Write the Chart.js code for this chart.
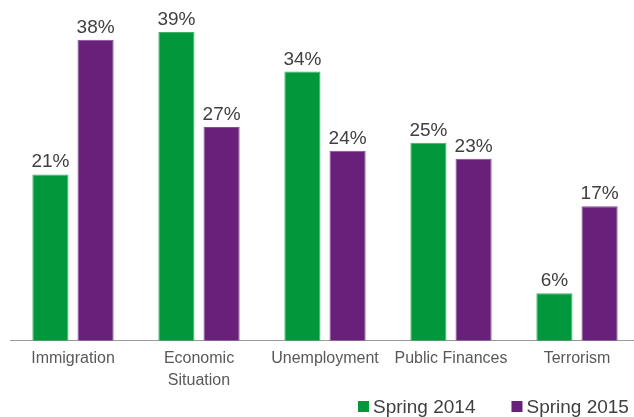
<!DOCTYPE html>
<html>
<head>
<meta charset="utf-8">
<script src="https://cdn.jsdelivr.net/npm/chart.js@4/dist/chart.umd.min.js"></script>
<style>
html,body{margin:0;padding:0;background:#fff;overflow:hidden;width:634px;height:417px;}
#wrap{width:640px;height:417px;}
</style>
</head>
<body>
<div id="wrap"><canvas id="c" width="640" height="417"></canvas></div>
<script>
const categories = ["Immigration", ["Economic", "Situation"], "Unemployment", "Public Finances", "Terrorism"];
const seriesNames = ["Spring 2014", "Spring 2015"];
const spring2014 = [21, 39, 34, 25, 6];
const spring2015 = [38, 27, 24, 23, 17];
const seriesColors = ["#00983A", "#68207A"];
const seriesBorders = ["#3fb066", "#8a4a99"];

const FONT = "'Liberation Sans', Arial, sans-serif";

const valueLabels = {
  id: 'valueLabels',
  afterDatasetsDraw(chart) {
    const ctx = chart.ctx;
    ctx.save();
    ctx.font = "19px " + FONT;
    ctx.fillStyle = "#404040";
    ctx.textAlign = "center";
    ctx.textBaseline = "alphabetic";
    chart.data.datasets.forEach((ds, di) => {
      const meta = chart.getDatasetMeta(di);
      meta.data.forEach((bar, i) => {
        ctx.fillText(ds.data[i] + "%", bar.x, bar.y - 7);
      });
    });
    ctx.restore();
  }
};

const customLegend = {
  id: 'customLegend',
  afterDraw(chart) {
    const ctx = chart.ctx;
    ctx.save();
    ctx.font = "19px " + FONT;
    ctx.textBaseline = "alphabetic";
    ctx.textAlign = "left";
    let x = 358;
    const baseY = 412.5;
    chart.data.datasets.forEach((ds, di) => {
      ctx.fillStyle = ds.backgroundColor;
      ctx.fillRect(x, 401, 11, 11);
      ctx.fillStyle = "#404040";
      const tx = x + 15;
      ctx.fillText(ds.label, tx, baseY);
      x = tx + ctx.measureText(ds.label).width + 36;
    });
    ctx.restore();
  }
};

new Chart(document.getElementById('c'), {
  type: 'bar',
  data: {
    labels: categories,
    datasets: [
      { label: seriesNames[0], data: spring2014, backgroundColor: seriesColors[0], borderColor: seriesBorders[0], borderWidth: 1, categoryPercentage: 0.717, barPercentage: 0.8 },
      { label: seriesNames[1], data: spring2015, backgroundColor: seriesColors[1], borderColor: seriesBorders[1], borderWidth: 1, categoryPercentage: 0.717, barPercentage: 0.8 }
    ]
  },
  options: {
    responsive: false,
    devicePixelRatio: 1,
    animation: false,
    layout: { padding: { top: 24, left: 10, right: 0, bottom: 19 } },
    plugins: {
      legend: { display: false },
      tooltip: { enabled: false }
    },
    scales: {
      x: {
        grid: { display: false, drawTicks: false },
        border: { display: true, color: "#9a9a9a", width: 1 },
        ticks: {
          font: { family: FONT, size: 16, lineHeight: 1.35 },
          color: "#595959",
          padding: 7,
          maxRotation: 0,
          autoSkip: false
        }
      },
      y: {
        display: false,
        min: 0,
        max: 40
      }
    }
  },
  plugins: [valueLabels, customLegend]
});
</script>
</body>
</html>
